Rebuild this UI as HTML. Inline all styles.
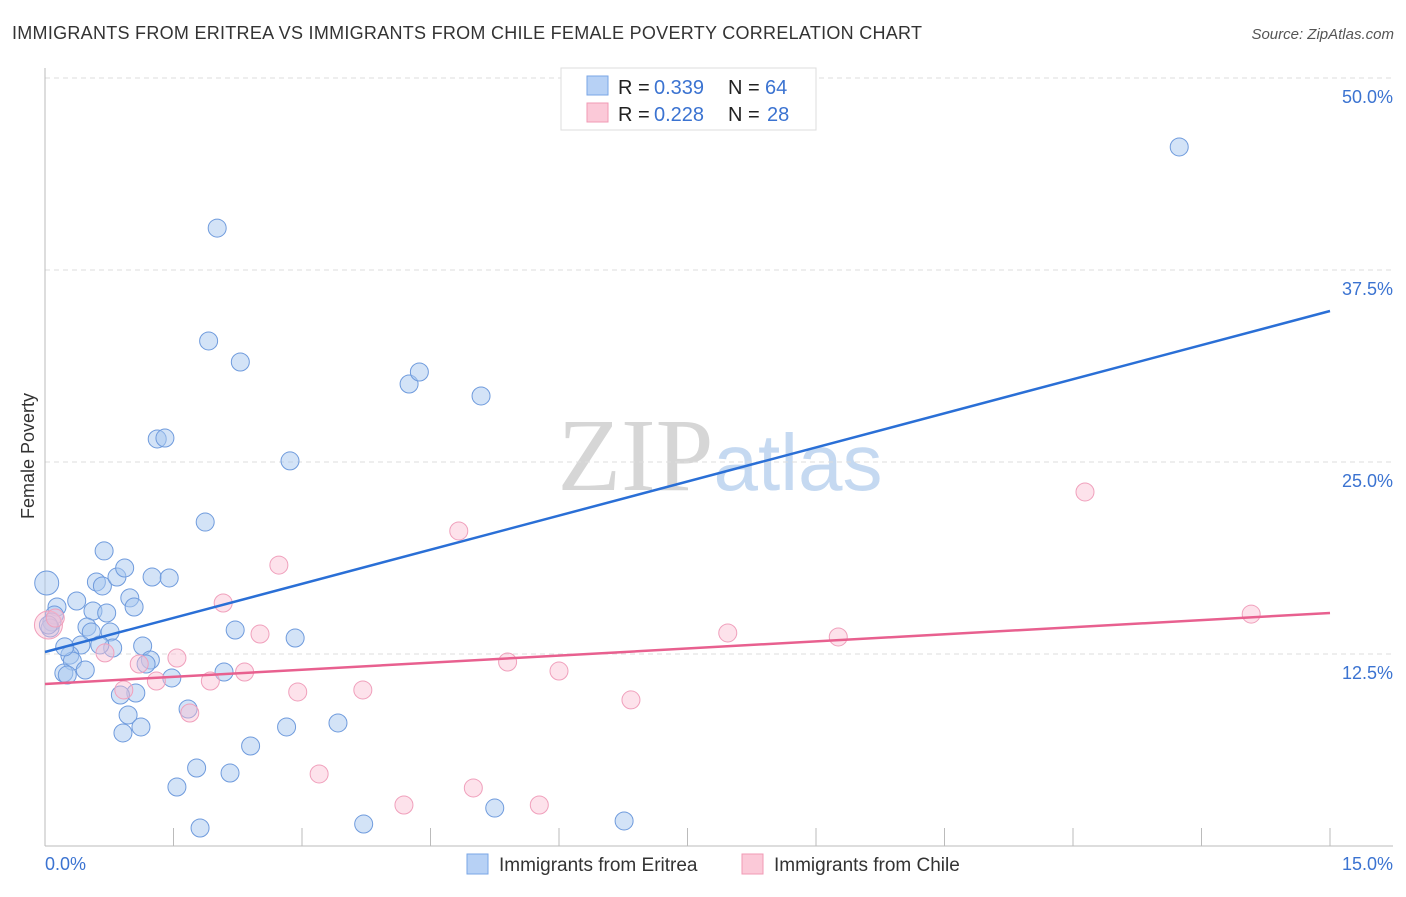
<!DOCTYPE html>
<html><head><meta charset="utf-8"><style>
body{margin:0;background:#fff;font-family:"Liberation Sans",sans-serif}
</style></head><body>
<svg id="chart" width="1406" height="892" xmlns="http://www.w3.org/2000/svg" font-family="Liberation Sans, sans-serif">
<text x="12" y="39" font-size="18" fill="#333" textLength="910" lengthAdjust="spacing">IMMIGRANTS FROM ERITREA VS IMMIGRANTS FROM CHILE FEMALE POVERTY CORRELATION CHART</text>
<text x="1394" y="39" font-size="15" fill="#555" text-anchor="end" font-style="italic">Source: ZipAtlas.com</text>
<text x="720" y="490" font-size="104" text-anchor="middle"><tspan font-family="Liberation Serif, serif" fill="#d6d6d6">ZIP</tspan><tspan fill="#c5d9f1" font-size="80">atlas</tspan></text>
<text transform="translate(34,456) rotate(-90)" font-size="18" fill="#333" text-anchor="middle">Female Poverty</text>
<g id="grid"></g><g id="axes"></g><g id="marks"></g>
<g>
<rect x="561" y="68" width="255" height="62" fill="#fff" stroke="#ddd"/>
<rect x="587" y="76" width="21" height="19" fill="#b7d1f5" stroke="#7aa6e6"/>
<rect x="587" y="103" width="21" height="19" fill="#fbc9d8" stroke="#f09ab5"/>
<text y="94" font-size="20" fill="#222"><tspan x="618">R =</tspan><tspan x="654" fill="#3b73d1">0.339</tspan><tspan x="728">N =</tspan><tspan x="765" fill="#3b73d1">64</tspan></text>
<text y="121" font-size="20" fill="#222"><tspan x="618">R =</tspan><tspan x="654" fill="#3b73d1">0.228</tspan><tspan x="728">N =</tspan><tspan x="767" fill="#3b73d1">28</tspan></text>
</g>
<g>
<rect x="467" y="854" width="21" height="20" fill="#b7d1f5" stroke="#7aa6e6"/>
<text x="499" y="871" font-size="19" fill="#333">Immigrants from Eritrea</text>
<rect x="742" y="854" width="21" height="20" fill="#fbc9d8" stroke="#f09ab5"/>
<text x="774" y="871" font-size="19" fill="#333">Immigrants from Chile</text>
</g>
</svg>
<script>
const yTicks=[12.5,25,37.5,50];
const yTickLabels=["12.5%","25.0%","37.5%","50.0%"];
const xTicks=[0,1.5,3,4.5,6,7.5,9,10.5,12,13.5,15];
const eritreaX=[0.02,0.14,0.11,0.08,0.06,0.37,0.69,0.60,0.67,0.84,0.93,0.56,0.72,0.99,1.04,0.49,0.54,0.76,0.42,0.29,0.32,0.23,0.22,0.26,0.47,0.79,1.14,1.23,1.18,0.64,1.25,1.45,1.87,1.31,1.40,1.91,2.28,2.01,2.86,4.25,4.37,5.09,13.24,2.22,2.92,1.48,2.09,1.06,0.88,0.97,1.12,0.91,1.67,2.40,2.82,3.42,1.77,2.16,1.54,1.81,3.72,5.25,6.76,0.04];
const eritreaY=[17.12,15.56,15.04,14.58,14.19,15.95,19.21,17.19,16.93,17.51,18.10,15.30,15.17,16.15,15.56,14.26,13.93,13.93,13.09,12.43,12.04,12.96,11.26,11.13,11.46,12.89,13.02,12.11,11.85,13.09,17.51,17.45,21.09,26.50,26.56,32.88,31.51,40.23,25.07,30.08,30.86,29.30,45.51,14.06,13.54,10.94,11.33,9.96,9.83,8.53,7.75,7.36,8.92,6.51,7.75,8.01,5.08,4.75,3.84,1.17,1.43,2.47,1.63,14.39];
const chileX=[0.04,0.12,0.70,0.92,1.10,1.30,1.54,1.93,2.08,2.33,2.51,2.73,2.95,3.20,3.71,4.19,4.83,5.00,5.40,5.77,6.00,6.84,7.97,9.26,12.14,14.08,1.69];
const chileY=[14.39,14.84,12.57,10.16,11.85,10.74,12.24,10.74,15.82,11.33,13.80,18.29,10.03,4.69,10.16,2.67,20.51,3.78,11.98,2.67,11.39,9.51,13.87,13.61,23.05,15.10,8.66];
const eritreaTrend=[12.63,34.83];
const chileTrend=[10.55,15.17];
const X0=45,X1=1330,Y0=846,Y50=78;
const sx=v=>X0+(v/15)*(X1-X0);
const sy=v=>Y0-(v/50)*(Y0-Y50);
const NS="http://www.w3.org/2000/svg";
function mk(t,a,p){const e=document.createElementNS(NS,t);for(const k in a)e.setAttribute(k,a[k]);p.appendChild(e);return e;}
const grid=document.getElementById('grid'),axes=document.getElementById('axes'),marks=document.getElementById('marks');
yTicks.forEach((v,i)=>{
 const l=mk('line',{x1:X0,x2:1393,y1:sy(v),y2:sy(v),stroke:'#ddd','stroke-dasharray':'5,4'},grid);
 
 
 const t=mk('text',{x:1393,y:sy(v)+25,'font-size':18,fill:'#3b73d1','text-anchor':'end'},grid);
 t.textContent=yTickLabels[i];
 
 
});
const ax=mk('line',{x1:X0,x2:1393,y1:Y0,y2:Y0,stroke:'#bbb'},axes);


const ay=mk('line',{x1:X0,x2:X0,y1:68,y2:Y0,stroke:'#bbb'},axes);


xTicks.forEach(v=>{
 const l=mk('line',{x1:sx(v),x2:sx(v),y1:828,y2:Y0,stroke:'#bbb'},axes);
 
 
});
const xl0=mk('text',{x:45,y:870,'font-size':18,fill:'#3b73d1'},axes);xl0.textContent='0.0%';


const xl1=mk('text',{x:1393,y:870,'font-size':18,fill:'#3b73d1','text-anchor':'end'},axes);xl1.textContent='15.0%';


eritreaX.forEach((x,i)=>{
 const c=mk('circle',{cx:sx(x),cy:sy(eritreaY[i]),r:(i===0?12:9),fill:'rgba(168,200,240,0.5)',stroke:'#6f9bdd','stroke-width':1},marks);
 
 
});
chileX.forEach((x,i)=>{
 const c=mk('circle',{cx:sx(x),cy:sy(chileY[i]),r:(i===0?14:9),fill:'rgba(250,190,210,0.45)',stroke:'#f0a0bc','stroke-width':1},marks);
 
 
});
const tb=mk('line',{x1:sx(0),y1:sy(eritreaTrend[0]),x2:sx(15),y2:sy(eritreaTrend[1]),stroke:'#2a6fd6','stroke-width':2.5},marks);


const tp=mk('line',{x1:sx(0),y1:sy(chileTrend[0]),x2:sx(15),y2:sy(chileTrend[1]),stroke:'#e8608f','stroke-width':2.5},marks);


</script>
</body></html>
